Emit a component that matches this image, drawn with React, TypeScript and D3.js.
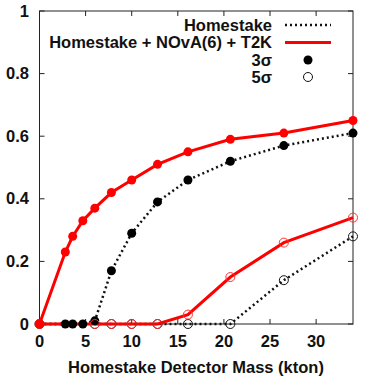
import React, { useEffect, useRef } from "react";
import * as d3 from "d3";

// detector masses (kton)
const massRed3 = [0, 2.8, 3.6, 4.7, 6.0, 7.8, 10, 12.8, 16.1, 20.7, 26.5, 34];
const valRed3 = [0, 0.23, 0.28, 0.33, 0.37, 0.42, 0.46, 0.51, 0.55, 0.59, 0.61, 0.65];
const massBlack3 = [0, 2.8, 3.6, 4.7, 6.0, 7.8, 10, 12.8, 16.1, 20.7, 26.5, 34];
const valBlack3 = [0, 0, 0, 0, 0.01, 0.17, 0.29, 0.39, 0.46, 0.52, 0.57, 0.61];
const massRed5 = [0, 6.0, 7.8, 10, 12.8, 16.1, 20.7, 26.5, 34];
const valRed5 = [0, 0, 0, 0, 0, 0.03, 0.15, 0.26, 0.34];
const massBlack5 = [0, 6.0, 7.8, 10, 12.8, 16.1, 20.7, 26.5, 34];
const valBlack5 = [0, 0, 0, 0, 0, 0, 0, 0.14, 0.28];

const xTicks = [0, 5, 10, 15, 20, 25, 30];
const yTicks = [0, 0.2, 0.4, 0.6, 0.8, 1];
const legendLabels = ["Homestake", "Homestake + NOvA(6) + T2K", "3σ", "5σ"];

const W = 373;
const H = 387;
const FONT = "'Liberation Sans', Arial, sans-serif";
const FS = 16.5;

const App = () => {
  const ref = useRef<SVGSVGElement>(null);

  useEffect(() => {
    const svg = d3.select(ref.current);
    svg.selectAll("*").remove();

    const m = { left: 39.5, right: 353, top: 11, bottom: 324 };
    const x = d3.scaleLinear().domain([0, 34]).range([m.left, m.right]);
    const y = d3.scaleLinear().domain([0, 1]).range([m.bottom, m.top]);

    const g = svg.append("g");
    const toPts = (xs: number[], ys: number[]) => xs.map((v, i) => [v, ys[i]] as [number, number]);
    const line = d3.line<[number, number]>().x(d => x(d[0])).y(d => y(d[1]));

    // frame
    g.append("rect")
      .attr("x", m.left).attr("y", m.top)
      .attr("width", m.right - m.left).attr("height", m.bottom - m.top)
      .attr("fill", "none").attr("stroke", "#222").attr("stroke-width", 1);

    // ticks (inward) and labels
    const tl = 5;
    xTicks.forEach(t => {
      g.append("line").attr("x1", x(t)).attr("x2", x(t)).attr("y1", m.bottom).attr("y2", m.bottom - tl).attr("stroke", "#222");
      g.append("line").attr("x1", x(t)).attr("x2", x(t)).attr("y1", m.top).attr("y2", m.top + tl).attr("stroke", "#222");
      g.append("text").attr("x", x(t)).attr("y", 347)
        .attr("text-anchor", "middle").attr("font-family", FONT).attr("font-weight", "bold")
        .attr("font-size", FS).attr("fill", "#111").text(t);
    });
    yTicks.forEach(t => {
      g.append("line").attr("x1", m.left).attr("x2", m.left + tl).attr("y1", y(t)).attr("y2", y(t)).attr("stroke", "#222");
      g.append("line").attr("x1", m.right).attr("x2", m.right - tl).attr("y1", y(t)).attr("y2", y(t)).attr("stroke", "#222");
      g.append("text").attr("x", 29).attr("y", y(t) + 5.5)
        .attr("text-anchor", "end").attr("font-family", FONT).attr("font-weight", "bold")
        .attr("font-size", FS).attr("fill", "#111").text(t);
    });

    g.append("text").attr("x", 196).attr("y", 372.5)
      .attr("text-anchor", "middle").attr("font-family", FONT).attr("font-weight", "bold")
      .attr("font-size", FS).attr("fill", "#111").text("Homestake Detector Mass (kton)");

    const dotted = { stroke: "#111", width: 2.5, dash: "2,3" };

    // black (Homestake) lines
    [toPts(massBlack3, valBlack3), toPts(massBlack5, valBlack5)].forEach(pts => {
      g.append("path").attr("d", line(pts)).attr("fill", "none")
        .attr("stroke", dotted.stroke).attr("stroke-width", dotted.width).attr("stroke-dasharray", dotted.dash);
    });
    // red lines
    [toPts(massRed3, valRed3), toPts(massRed5, valRed5)].forEach(pts => {
      g.append("path").attr("d", line(pts)).attr("fill", "none")
        .attr("stroke", "#ff0000").attr("stroke-width", 3);
    });

    // markers
    toPts(massBlack5, valBlack5).forEach(d => {
      g.append("circle").attr("cx", x(d[0])).attr("cy", y(d[1])).attr("r", 4.5)
        .attr("fill", "none").attr("stroke", "#111").attr("stroke-width", 1);
    });
    toPts(massBlack3, valBlack3).forEach(d => {
      g.append("circle").attr("cx", x(d[0])).attr("cy", y(d[1])).attr("r", 4.5).attr("fill", "#000");
    });
    toPts(massRed5, valRed5).forEach(d => {
      g.append("circle").attr("cx", x(d[0])).attr("cy", y(d[1])).attr("r", 4.5)
        .attr("fill", "none").attr("stroke", "#ff3030").attr("stroke-width", 1);
    });
    toPts(massRed3, valRed3).forEach(d => {
      g.append("circle").attr("cx", x(d[0])).attr("cy", y(d[1])).attr("r", 4.5).attr("fill", "#ff0000");
    });

    // legend
    const lx = 272;
    const rows = [25, 42.5, 60, 77];
    legendLabels.forEach((lab, i) => {
      g.append("text").attr("x", lx).attr("y", rows[i] + 5.5)
        .attr("text-anchor", "end").attr("font-family", FONT).attr("font-weight", "bold")
        .attr("font-size", FS).attr("fill", "#111").text(lab);
    });
    g.append("line").attr("x1", 285).attr("x2", 331).attr("y1", rows[0]).attr("y2", rows[0])
      .attr("stroke", dotted.stroke).attr("stroke-width", dotted.width).attr("stroke-dasharray", dotted.dash);
    g.append("line").attr("x1", 285).attr("x2", 331).attr("y1", rows[1]).attr("y2", rows[1])
      .attr("stroke", "#ff0000").attr("stroke-width", 3);
    g.append("circle").attr("cx", 308).attr("cy", rows[2]).attr("r", 4.5).attr("fill", "#000");
    g.append("circle").attr("cx", 308).attr("cy", rows[3]).attr("r", 4.5)
      .attr("fill", "none").attr("stroke", "#111").attr("stroke-width", 1);
  }, []);

  return (
    <svg ref={ref} width={W} height={H}
      style={{ position: "absolute", left: 0, top: 0, background: "#fff" }} />
  );
};

export default App;
